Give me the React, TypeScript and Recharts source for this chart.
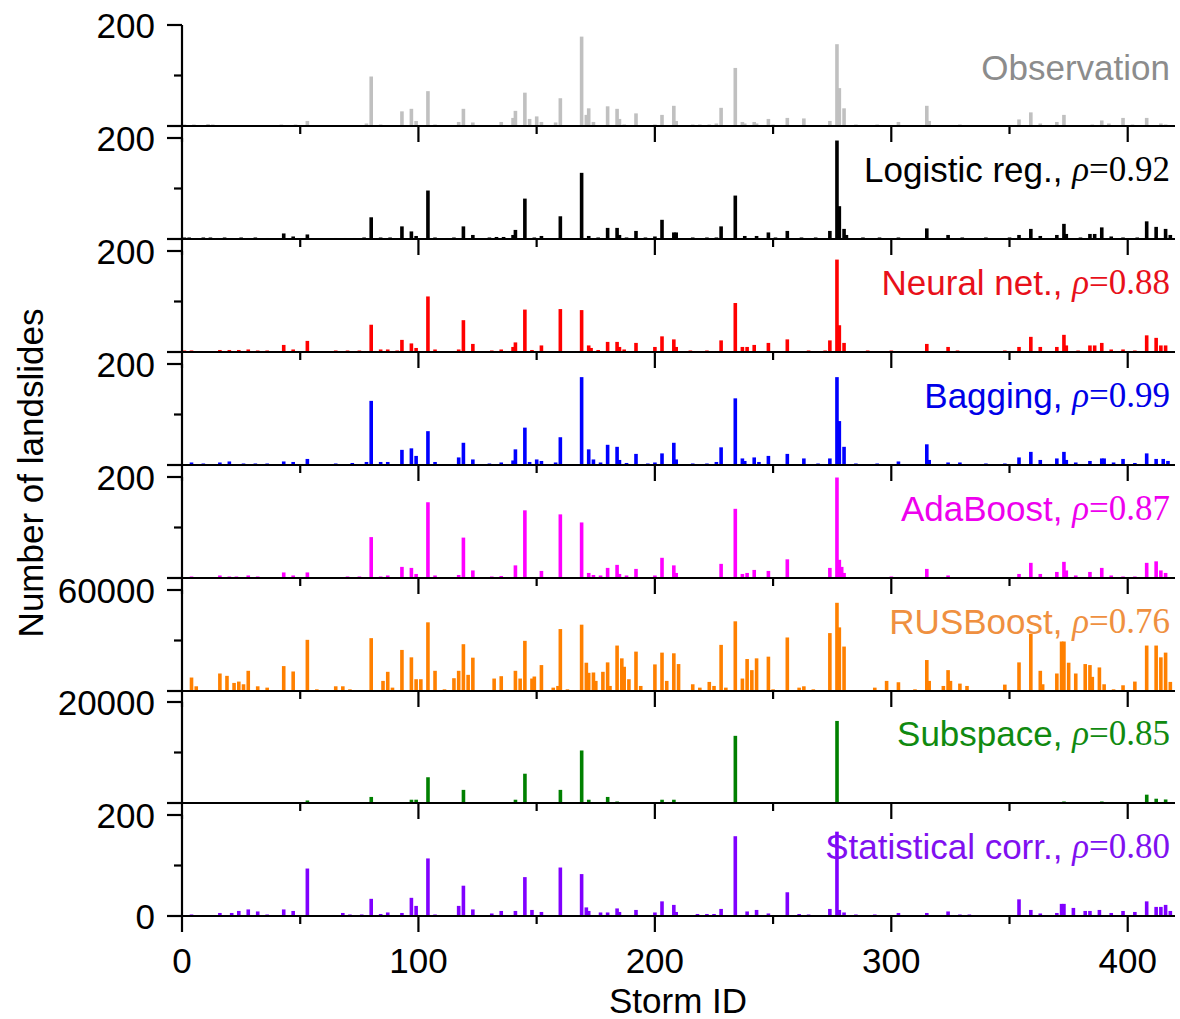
import { BarChart, Bar, XAxis, YAxis } from 'recharts'

// [storm id, number of landslides]
const observation: [number, number][] = [
  [1, 3], [3, 2], [5, 3], [8, 2], [11, 4], [13, 3], [42, 3], [46, 2], [48, 3], [53, 10], [76, 2], [78, 5],
  [80, 98], [84, 3], [88, 2], [93, 29], [97, 34], [99, 10], [104, 69], [107, 3], [115, 2], [117, 8], [119, 34],
  [123, 7], [135, 8], [140, 16], [141, 30], [145, 66], [147, 14], [150, 19], [152, 8], [158, 7], [160, 55],
  [169, 177], [171, 22], [172, 35], [174, 8], [180, 39], [184, 34], [185, 14], [187, 3], [192, 25], [200, 3],
  [203, 22], [208, 40], [209, 10], [216, 3], [219, 3], [223, 3], [226, 5], [228, 36], [234, 115], [237, 8],
  [238, 5], [242, 8], [243, 5], [248, 14], [250, 3], [256, 16], [263, 15], [274, 10], [277, 162], [278, 75],
  [280, 35], [285, 3], [294, 3], [303, 8], [315, 40], [316, 10], [329, 3], [348, 2], [354, 13], [359, 27],
  [363, 5], [370, 8], [373, 22], [385, 3], [389, 11], [392, 5], [398, 16], [402, 3], [408, 16], [414, 5], [416, 3],
]

const logistic: [number, number][] = [
  [1, 3], [3, 3], [6, 2], [9, 3], [12, 3], [15, 2], [18, 3], [21, 2], [25, 3], [28, 2], [31, 3], [36, 2],
  [43, 11], [47, 5], [53, 9], [65, 2], [69, 2], [73, 2], [77, 3], [80, 43], [84, 3], [88, 3], [93, 25], [97, 15],
  [99, 6], [104, 96], [107, 3], [112, 2], [115, 3], [119, 25], [123, 8], [130, 3], [133, 4], [136, 4], [140, 8],
  [141, 18], [145, 80], [149, 3], [152, 6], [160, 45], [169, 131], [172, 6], [176, 3], [180, 22], [184, 22],
  [185, 8], [188, 3], [192, 16], [196, 3], [200, 5], [203, 38], [208, 13], [209, 13], [216, 3], [222, 3],
  [226, 3], [228, 25], [234, 86], [238, 6], [243, 6], [248, 13], [251, 3], [256, 16], [262, 3], [268, 3],
  [274, 16], [277, 195], [278, 65], [280, 20], [281, 8], [288, 3], [295, 3], [303, 3], [315, 21], [324, 8],
  [330, 3], [340, 3], [350, 3], [354, 8], [359, 20], [363, 6], [370, 8], [373, 30], [374, 10], [380, 3],
  [384, 10], [386, 10], [389, 23], [393, 5], [398, 3], [404, 3], [408, 35], [412, 24], [416, 20], [418, 8],
]

const neuralNet: [number, number][] = [
  [1, 3], [4, 3], [8, 2], [16, 4], [20, 4], [24, 4], [28, 5], [32, 3], [36, 3], [43, 14], [47, 5], [53, 22],
  [65, 3], [70, 3], [75, 3], [80, 54], [84, 5], [87, 5], [91, 3], [93, 24], [97, 17], [99, 8], [104, 110],
  [107, 5], [117, 5], [119, 63], [123, 16], [131, 3], [135, 5], [140, 10], [141, 19], [145, 84], [148, 4],
  [152, 13], [160, 85], [169, 83], [172, 13], [173, 8], [176, 4], [180, 20], [184, 20], [185, 10], [187, 5],
  [192, 18], [200, 10], [203, 31], [208, 25], [209, 10], [215, 3], [222, 3], [228, 23], [234, 97], [237, 10],
  [239, 10], [242, 14], [248, 18], [256, 25], [265, 3], [272, 3], [274, 23], [277, 183], [278, 53], [280, 18],
  [290, 3], [300, 3], [315, 16], [324, 10], [328, 3], [348, 3], [354, 10], [359, 30], [363, 10], [370, 10],
  [373, 34], [374, 13], [379, 3], [384, 13], [386, 13], [389, 18], [393, 5], [398, 5], [403, 3], [408, 33],
  [412, 28], [414, 13], [416, 13],
]

const bagging: [number, number][] = [
  [4, 5], [9, 3], [16, 5], [20, 7], [26, 3], [31, 3], [36, 3], [43, 7], [47, 6], [53, 12], [65, 3], [72, 4],
  [78, 6], [80, 127], [84, 6], [87, 6], [93, 30], [97, 33], [99, 18], [104, 67], [107, 6], [117, 15], [119, 44],
  [123, 11], [130, 3], [135, 5], [140, 9], [141, 31], [145, 74], [147, 6], [150, 11], [152, 8], [158, 5],
  [160, 55], [169, 174], [172, 31], [174, 11], [177, 5], [180, 40], [184, 36], [185, 10], [188, 4], [192, 22],
  [197, 3], [200, 5], [203, 23], [208, 44], [209, 11], [216, 3], [222, 3], [226, 6], [228, 35], [234, 132],
  [237, 13], [238, 8], [242, 15], [244, 6], [248, 18], [256, 22], [263, 13], [269, 3], [274, 13], [277, 174],
  [278, 87], [280, 36], [285, 3], [294, 3], [303, 7], [315, 41], [316, 10], [324, 5], [329, 5], [340, 3],
  [348, 3], [354, 15], [359, 26], [363, 10], [370, 13], [373, 26], [374, 10], [378, 5], [384, 8], [389, 13],
  [390, 13], [394, 5], [398, 12], [403, 4], [408, 23], [412, 12], [415, 12], [417, 8],
]

const adaBoost: [number, number][] = [
  [4, 3], [16, 5], [20, 3], [23, 3], [28, 5], [32, 3], [43, 11], [47, 5], [53, 11], [70, 3], [75, 3], [80, 81],
  [84, 3], [87, 5], [93, 22], [97, 20], [99, 8], [104, 150], [107, 5], [117, 6], [119, 80], [123, 15], [131, 3],
  [135, 4], [141, 25], [145, 134], [152, 14], [160, 126], [169, 110], [172, 10], [174, 6], [177, 5], [180, 20],
  [184, 26], [185, 8], [188, 5], [192, 18], [200, 5], [203, 40], [208, 25], [209, 10], [216, 2], [220, 2],
  [223, 2], [228, 28], [234, 137], [237, 8], [239, 10], [242, 16], [248, 14], [256, 37], [263, 2], [274, 20],
  [277, 199], [278, 36], [279, 22], [280, 10], [290, 2], [300, 3], [315, 18], [324, 5], [354, 8], [359, 30],
  [363, 8], [370, 12], [373, 32], [374, 15], [378, 5], [384, 12], [389, 20], [393, 5], [398, 3], [403, 3],
  [408, 30], [412, 33], [414, 15], [416, 10],
]

const rusBoost: [number, number][] = [
  [4, 8000], [6, 2800], [16, 10400], [19, 9000], [22, 4800], [24, 5600], [26, 4000], [28, 12000], [32, 2800],
  [36, 2000], [43, 14800], [47, 11600], [53, 30400], [57, 1000], [65, 2800], [68, 2800], [71, 1000], [80, 31400],
  [85, 6000], [87, 11400], [89, 2000], [93, 24400], [97, 20000], [99, 7000], [101, 7000], [104, 40800],
  [107, 12000], [111, 1000], [115, 7600], [117, 12000], [119, 27800], [121, 9600], [123, 19800], [132, 7400],
  [135, 8800], [141, 12000], [143, 7400], [145, 29800], [148, 7400], [149, 8600], [152, 15400], [157, 2000],
  [159, 3000], [160, 36800], [163, 1000], [169, 39400], [171, 16800], [172, 10800], [174, 11000], [175, 6000],
  [178, 11400], [180, 17000], [181, 3000], [184, 27000], [186, 19400], [187, 14400], [189, 7000], [192, 23400],
  [194, 3000], [200, 15800], [203, 22800], [205, 6000], [208, 22400], [210, 16000], [216, 4000], [219, 2000],
  [223, 5400], [225, 3000], [228, 27400], [230, 2000], [234, 41400], [237, 7400], [239, 19000], [241, 12400],
  [243, 19400], [248, 20400], [250, 1000], [256, 31800], [261, 2000], [263, 2800], [267, 1000], [274, 34400],
  [277, 52400], [278, 37800], [280, 26400], [293, 2000], [298, 6000], [303, 5200], [310, 1000], [315, 18400],
  [316, 6000], [322, 3000], [324, 12400], [325, 6000], [329, 4400], [332, 3000], [348, 3800], [354, 17000],
  [359, 34000], [363, 12000], [364, 4000], [370, 10400], [372, 29400], [373, 29400], [375, 16800], [378, 10400],
  [382, 16000], [384, 15400], [385, 8400], [388, 14000], [390, 4000], [394, 1000], [398, 3400], [403, 5600],
  [408, 27000], [412, 27000], [414, 20000], [416, 22800], [418, 5400],
]

const subspace: [number, number][] = [
  [53, 500], [80, 1200], [97, 650], [99, 650], [104, 5100], [119, 2600], [141, 650], [145, 5800], [160, 2600],
  [169, 10400], [172, 650], [180, 1200], [184, 300], [203, 650], [208, 650], [228, 150], [234, 13300],
  [256, 150], [277, 16250], [279, 200], [315, 100], [373, 300], [389, 300], [408, 1650], [412, 850], [416, 700],
]

const statCorr: [number, number][] = [
  [4, 3], [9, 2], [16, 6], [21, 6], [24, 10], [28, 13], [32, 9], [36, 3], [43, 13], [47, 10], [53, 94], [64, 2],
  [68, 6], [71, 3], [76, 3], [80, 34], [84, 4], [87, 7], [93, 6], [97, 36], [99, 20], [104, 114], [107, 3],
  [117, 20], [119, 60], [123, 13], [131, 5], [135, 10], [141, 10], [145, 77], [148, 12], [152, 8], [160, 96],
  [169, 83], [171, 17], [172, 10], [177, 7], [180, 7], [184, 15], [185, 8], [192, 12], [200, 7], [203, 29],
  [208, 22], [209, 8], [218, 4], [222, 4], [225, 4], [228, 14], [234, 158], [239, 9], [243, 12], [248, 5],
  [256, 47], [261, 4], [265, 3], [274, 14], [277, 167], [278, 12], [280, 7], [285, 3], [293, 3], [303, 6],
  [315, 6], [324, 9], [329, 3], [333, 3], [354, 33], [359, 12], [363, 5], [370, 6], [372, 24], [373, 24],
  [377, 16], [382, 10], [384, 10], [388, 12], [393, 6], [398, 10], [403, 8], [408, 29], [412, 18], [414, 18],
  [416, 22], [418, 10],
]

const xTicks = [0, 50, 100, 150, 200, 250, 300, 350, 400]

const panels = [
  { name: 'Observation', rho: '', bar: '#c0c0c0', text: '#8c8c8c', max: 200, data: observation },
  { name: 'Logistic reg., ', rho: '0.92', bar: '#000000', text: '#000000', max: 200, data: logistic },
  { name: 'Neural net., ', rho: '0.88', bar: '#ff0000', text: '#e8101a', max: 200, data: neuralNet },
  { name: 'Bagging, ', rho: '0.99', bar: '#0000ff', text: '#0000e8', max: 200, data: bagging },
  { name: 'AdaBoost, ', rho: '0.87', bar: '#ff00ff', text: '#ee00ee', max: 200, data: adaBoost },
  { name: 'RUSBoost, ', rho: '0.76', bar: '#ff8000', text: '#ef9040', max: 60000, data: rusBoost },
  { name: 'Subspace, ', rho: '0.85', bar: '#008000', text: '#108a10', max: 20000, data: subspace },
  { name: 'Statistical corr., ', rho: '0.80', bar: '#8000ff', text: '#8010f0', max: 200, data: statCorr },
]

const SANS = '"Liberation Sans", Arial, sans-serif'
const SERIF = '"Liberation Serif", "Times New Roman", serif'
const W = 1180
const PLOT_H = 101
const STEP = 112.9
const FIRST_TOP = 25
const MT = 25
const BAR_W = 3.6

const YTick = ({ x, y, payload, max, last }: any) => {
  const v = payload.value
  const major = v === 0 || v === max
  const len = major ? 15 : 8
  const show = v === max || (last && v === 0)
  return (
    <g>
      <line x1={x - len} x2={x} y1={y} y2={y} stroke="#000" strokeWidth={2.2} />
      {show && (
        <text x={x - 27} y={y} textAnchor="end" dominantBaseline="central" fontSize={35} fontFamily={SANS} fill="#000">
          {v}
        </text>
      )}
    </g>
  )
}

const XTick = ({ x, y, payload, last }: any) => {
  const major = payload.value % 100 === 0
  return (
    <g>
      <line x1={x} x2={x} y1={y} y2={y + (major ? 16 : 8)} stroke="#000" strokeWidth={2.2} />
      {last && major && (
        <text x={x} y={y + 44} textAnchor="middle" dominantBaseline="central" fontSize={35} fontFamily={SANS} fill="#000">
          {payload.value}
        </text>
      )}
    </g>
  )
}

// fixed-width bar centred on the band that recharts computed
const SpikeBar = ({ x, y, width, height, fill }: any) => {
  if (!height || height <= 0) return null
  return <rect x={x + width / 2 - BAR_W / 2} y={y} width={BAR_W} height={height} fill={fill} />
}

function Panel({ p, i }: { p: typeof panels[number]; i: number }) {
  const last = i === panels.length - 1
  const top = FIRST_TOP + i * STEP
  const axisH = last ? 80 : 25
  const data = p.data.map(([id, v]) => ({ id, v }))
  return (
    <div style={{ position: 'absolute', left: 0, top: top - MT }}>
      <BarChart width={W} height={MT + PLOT_H + axisH} data={data} margin={{ top: MT, right: 5, left: 0, bottom: 0 }}>
        <XAxis
          dataKey="id"
          type="number"
          domain={[0, 420]}
          ticks={xTicks}
          interval={0}
          tickSize={0}
          tickMargin={0}
          height={axisH}
          axisLine={{ stroke: '#000', strokeWidth: 2.2 }}
          tickLine={false}
          tick={(props: any) => <XTick {...props} last={last} />}
          allowDataOverflow
        />
        <YAxis
          type="number"
          domain={[0, p.max]}
          ticks={[0, p.max / 2, p.max]}
          interval={0}
          width={182}
          tickSize={0}
          tickMargin={0}
          axisLine={{ stroke: '#000', strokeWidth: 2.2 }}
          tickLine={false}
          tick={(props: any) => <YTick {...props} max={p.max} last={last} />}
        />
        <Bar dataKey="v" fill={p.bar} shape={<SpikeBar />} isAnimationActive={false} />
      </BarChart>
    </div>
  )
}

export default function App() {
  return (
    <div style={{ position: 'absolute', left: 0, top: 0, width: W, height: 1019, overflow: 'hidden', background: '#fff' }}>
      {panels.map((p, i) => (
        <Panel key={p.name} p={p} i={i} />
      ))}
      <svg width={W} height={1019} style={{ position: 'absolute', left: 0, top: 0, pointerEvents: 'none' }}>
        {panels.map((p, i) => {
          const y = FIRST_TOP + i * STEP + (i === 0 ? 42 : 31)
          return (
            <text key={p.name} x={1170} y={y} textAnchor="end" dominantBaseline="central" fontSize={35} fill={p.text}>
              <tspan fontFamily={SANS}>{p.name}</tspan>
              {p.rho && (
                <>
                  <tspan fontFamily={SERIF} fontStyle="italic">ρ</tspan>
                  <tspan fontFamily={SERIF}>={p.rho}</tspan>
                </>
              )}
            </text>
          )
        })}
        <text
          x={30}
          y={473}
          transform="rotate(-90 30 473)"
          textAnchor="middle"
          dominantBaseline="central"
          fontSize={35}
          fontFamily={SANS}
          fill="#000"
        >
          Number of landslides
        </text>
        <text x={678} y={1000} textAnchor="middle" dominantBaseline="central" fontSize={35} fontFamily={SANS} fill="#000">
          Storm ID
        </text>
      </svg>
    </div>
  )
}
